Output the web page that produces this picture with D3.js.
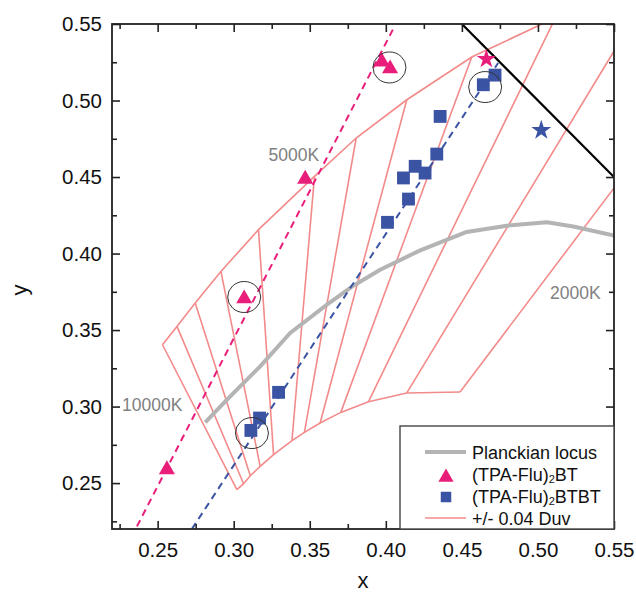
<!DOCTYPE html>
<html>
<head>
<meta charset="utf-8">
<script src="https://cdn.jsdelivr.net/npm/d3@7"></script>
<style>
  html, body { margin: 0; padding: 0; background: #fff; }
  svg { display: block; font-family: Arial, "Liberation Sans", sans-serif; }
</style>
</head>
<body>
<svg width="636" height="594"></svg>
<script>
// ticks
const xTicks = [0.25, 0.30, 0.35, 0.40, 0.45, 0.50, 0.55];
const yTicks = [0.25, 0.30, 0.35, 0.40, 0.45, 0.50, 0.55];
const minorTicks = [0.225, 0.275, 0.325, 0.375, 0.425, 0.475, 0.525];

// Planckian locus
const locus = [
  [0.2813, 0.2897], [0.2956, 0.3045], [0.3174, 0.3263], [0.3371, 0.3481],
  [0.3613, 0.3666], [0.3787, 0.3790], [0.3963, 0.3894], [0.4226, 0.4021],
  [0.4532, 0.4141], [0.4795, 0.4182], [0.5058, 0.4204], [0.5233, 0.4177],
  [0.5500, 0.4117]
];

// +/- 0.04 Duv boundaries
const duvUpper = [
  [0.2532, 0.3404], [0.2627, 0.3524], [0.2747, 0.3677], [0.2916, 0.3883],
  [0.3163, 0.4156], [0.3531, 0.4504], [0.3805, 0.4755], [0.4138, 0.5005],
  [0.4565, 0.5284], [0.5300, 0.5628]
];
const duvLower = [
  [0.3021, 0.2457], [0.3065, 0.2496], [0.3109, 0.2548], [0.3174, 0.2609],
  [0.3262, 0.2686], [0.3383, 0.2777], [0.3465, 0.2831], [0.3568, 0.2893],
  [0.3704, 0.2962], [0.3886, 0.3032], [0.4138, 0.3089], [0.4488, 0.3095]
];
// upper ends of the isotherms (last three lie outside the frame)
const isoUpper = [
  [0.2532, 0.3404], [0.2627, 0.3524], [0.2747, 0.3677], [0.2916, 0.3883],
  [0.3163, 0.4156], [0.3531, 0.4504], [0.3805, 0.4755], [0.4138, 0.5005],
  [0.4565, 0.5284], [0.5242, 0.5800], [0.5791, 0.5800], [0.6541, 0.5800]
];

// samples
const btPoints = [
  [0.2561, 0.2603], [0.3069, 0.3720], [0.3470, 0.4502], [0.3974, 0.5268], [0.4028, 0.5223]
];
const btbtPoints = [
  [0.3113, 0.2844], [0.3170, 0.2925], [0.3295, 0.3093], [0.4011, 0.4204],
  [0.4149, 0.4356], [0.4116, 0.4494], [0.4193, 0.4570], [0.4258, 0.4526],
  [0.4335, 0.4650], [0.4357, 0.4896], [0.4641, 0.5103], [0.4718, 0.5166]
];
const btStar = [0.4661, 0.5271];
const btbtStar = [0.5022, 0.4805];

const btTrend = [[0.2364, 0.2217], [0.4046, 0.5463]];
const btbtTrend = [[0.2725, 0.2200], [0.4738, 0.5245]];
const boundary = [[0.45, 0.55], [0.55, 0.45]];

const circled = [[0.3069, 0.3716], [0.3120, 0.2827], [0.4024, 0.5216], [0.4653, 0.5088]];

const cctLabels = [
  { text: "5000K", x: 0.3229, y: 0.4602 },
  { text: "10000K", x: 0.2266, y: 0.2968 },
  { text: "2000K", x: 0.5080, y: 0.3703 }
];

const pink = "#e91e7b";
const blue = "#3b53a3";
const salmon = "#f38a8a";
const grey = "#b4b4b4";

const svg = d3.select("svg");
const plotLeft = 112, plotRight = 614, plotTop = 24, plotBottom = 529;

const x = d3.scaleLinear().domain([0.22, 0.55]).range([plotLeft, plotRight]);
const y = d3.scaleLinear().domain([0.22, 0.55]).range([plotBottom, plotTop]);

svg.append("defs").append("clipPath").attr("id", "plot")
  .append("rect").attr("x", plotLeft).attr("y", plotTop)
  .attr("width", plotRight - plotLeft).attr("height", plotBottom - plotTop);

const line = d3.line().x((d) => x(d[0])).y((d) => y(d[1]));

const plot = svg.append("g").attr("clip-path", "url(#plot)");

// Duv grid
plot.append("path").attr("d", line(duvUpper))
  .attr("fill", "none").attr("stroke", salmon).attr("stroke-width", 1.6);
plot.append("path").attr("d", line(duvLower))
  .attr("fill", "none").attr("stroke", salmon).attr("stroke-width", 1.6);
plot.append("g").selectAll("path")
  .data(duvLower)
  .enter()
  .append("path")
  .attr("d", (d, i) => line([isoUpper[i], d]))
  .attr("fill", "none").attr("stroke", salmon).attr("stroke-width", 1.6);

// Planckian locus
plot.append("path").attr("d", line(locus))
  .attr("fill", "none").attr("stroke", grey).attr("stroke-width", 4)
  .attr("stroke-linejoin", "round");

// trend lines
plot.append("path").attr("d", line(btTrend))
  .attr("fill", "none").attr("stroke", pink).attr("stroke-width", 2)
  .attr("stroke-dasharray", "7,5");
plot.append("path").attr("d", line(btbtTrend))
  .attr("fill", "none").attr("stroke", blue).attr("stroke-width", 2)
  .attr("stroke-dasharray", "7,5");

// black border line
plot.append("path").attr("d", line(boundary))
  .attr("fill", "none").attr("stroke", "#000").attr("stroke-width", 2.2);

// markers
const triSize = 112;
const triOff = Math.sqrt(triSize / (Math.sqrt(3) * 3)) / 2;
const tri = d3.symbol(d3.symbolTriangle, triSize);
const sq = d3.symbol(d3.symbolSquare, 165);

svg.append("g").selectAll("path")
  .data(btPoints)
  .enter()
  .append("path")
  .attr("d", tri)
  .attr("transform", (d) => `translate(${x(d[0])},${y(d[1]) + triOff})`)
  .attr("fill", pink);

svg.append("g").selectAll("path")
  .data(btbtPoints)
  .enter()
  .append("path")
  .attr("d", sq)
  .attr("transform", (d) => `translate(${x(d[0])},${y(d[1])})`)
  .attr("fill", blue);

svg.append("path")
  .attr("d", d3.symbol(d3.symbolStar, 115))
  .attr("transform", `translate(${x(btStar[0])},${y(btStar[1])})`)
  .attr("fill", pink);
svg.append("path")
  .attr("d", d3.symbol(d3.symbolStar, 124))
  .attr("transform", `translate(${x(btbtStar[0])},${y(btbtStar[1])})`)
  .attr("fill", blue);

// circled points
svg.append("g").selectAll("ellipse")
  .data(circled)
  .enter()
  .append("ellipse")
  .attr("cx", (d) => x(d[0]))
  .attr("cy", (d) => y(d[1]))
  .attr("rx", 16.5)
  .attr("ry", 15.5)
  .attr("fill", "none")
  .attr("stroke", "#333")
  .attr("stroke-width", 1);

// CCT labels
svg.append("g").selectAll("text")
  .data(cctLabels)
  .enter()
  .append("text")
  .attr("x", (d) => x(d.x))
  .attr("y", (d) => y(d.y))
  .attr("font-size", 17.5)
  .attr("fill", "#808080")
  .text((d) => d.text);

// axes
function styleAxis(g) {
  g.select(".domain").remove();
  g.selectAll("line").attr("stroke", "#222").attr("stroke-width", 1.6);
  g.selectAll("text").attr("font-size", 20.5).attr("fill", "#111")
    .attr("font-family", "Arial, 'Liberation Sans', sans-serif");
}

svg.append("g").attr("transform", `translate(0,${plotBottom})`)
  .call(d3.axisBottom(x).tickValues(xTicks).tickSize(-8).tickPadding(13)
    .tickFormat(d3.format(".2f")))
  .call(styleAxis);
svg.append("g").attr("transform", `translate(0,${plotBottom})`)
  .call(d3.axisBottom(x).tickValues(minorTicks).tickSize(-5).tickFormat(""))
  .call(styleAxis);
svg.append("g").attr("transform", `translate(0,${plotTop})`)
  .call(d3.axisTop(x).tickValues(xTicks).tickSize(-8).tickFormat(""))
  .call(styleAxis);
svg.append("g").attr("transform", `translate(0,${plotTop})`)
  .call(d3.axisTop(x).tickValues(minorTicks).tickSize(-5).tickFormat(""))
  .call(styleAxis);

svg.append("g").attr("transform", `translate(${plotLeft},0)`)
  .call(d3.axisLeft(y).tickValues(yTicks).tickSize(-8).tickPadding(10)
    .tickFormat(d3.format(".2f")))
  .call(styleAxis);
svg.append("g").attr("transform", `translate(${plotLeft},0)`)
  .call(d3.axisLeft(y).tickValues(minorTicks).tickSize(-5).tickFormat(""))
  .call(styleAxis);
svg.append("g").attr("transform", `translate(${plotRight},0)`)
  .call(d3.axisRight(y).tickValues(yTicks).tickSize(-8).tickFormat(""))
  .call(styleAxis);
svg.append("g").attr("transform", `translate(${plotRight},0)`)
  .call(d3.axisRight(y).tickValues(minorTicks).tickSize(-5).tickFormat(""))
  .call(styleAxis);

svg.append("rect")
  .attr("x", plotLeft).attr("y", plotTop)
  .attr("width", plotRight - plotLeft).attr("height", plotBottom - plotTop)
  .attr("fill", "none").attr("stroke", "#222").attr("stroke-width", 1.8);

// axis titles
svg.append("text")
  .attr("x", (plotLeft + plotRight) / 2).attr("y", 588)
  .attr("text-anchor", "middle").attr("font-size", 22).attr("fill", "#111")
  .text("x");
svg.append("text")
  .attr("transform", "translate(27,290) rotate(-90)")
  .attr("text-anchor", "middle").attr("font-size", 22).attr("fill", "#111")
  .text("y");

// legend
const legend = svg.append("g");
legend.append("rect")
  .attr("x", 400).attr("y", 426)
  .attr("width", plotRight - 400).attr("height", plotBottom - 426)
  .attr("fill", "#fff").attr("stroke", "#444").attr("stroke-width", 1.4);

const legendItems = [
  { kind: "line", color: grey, width: 4, label: ["Planckian locus"] },
  { kind: "tri", color: pink, label: ["(TPA-Flu)", "2", "BT"] },
  { kind: "sq", color: blue, label: ["(TPA-Flu)", "2", "BTBT"] },
  { kind: "line", color: salmon, width: 1.6, label: ["+/- 0.04 Duv"] }
];

const rows = legend.selectAll("g.item")
  .data(legendItems)
  .enter()
  .append("g")
  .attr("class", "item")
  .attr("transform", (d, i) => `translate(0,${452 + i * 22})`);

rows.filter((d) => d.kind === "line")
  .append("line")
  .attr("x1", 425).attr("x2", 466)
  .attr("stroke", (d) => d.color)
  .attr("stroke-width", (d) => d.width);
rows.filter((d) => d.kind === "tri")
  .append("path")
  .attr("d", d3.symbol(d3.symbolTriangle, 100))
  .attr("transform", `translate(446,${1 + triOff})`)
  .attr("fill", (d) => d.color);
rows.filter((d) => d.kind === "sq")
  .append("path")
  .attr("d", d3.symbol(d3.symbolSquare, 110))
  .attr("transform", "translate(446,1)")
  .attr("fill", (d) => d.color);

const labels = rows.append("text")
  .attr("x", 472).attr("y", 6.5)
  .attr("font-size", 18).attr("fill", "#111");
labels.each(function (d) {
  const t = d3.select(this);
  t.append("tspan").text(d.label[0]);
  if (d.label.length > 1) {
    t.append("tspan").attr("font-size", 11).attr("dy", 2).text(d.label[1]);
    t.append("tspan").attr("dy", -2).text(d.label[2]);
  }
});
</script>
</body>
</html>
